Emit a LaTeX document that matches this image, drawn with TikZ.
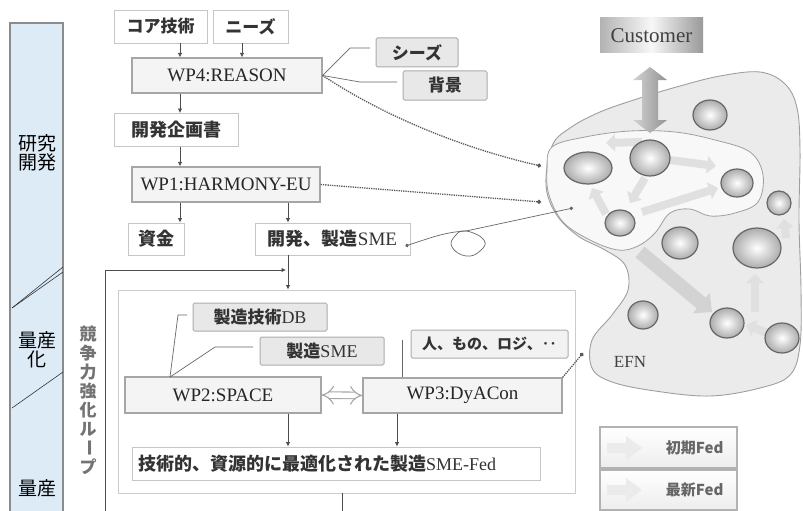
\documentclass[tikz,border=0pt]{standalone}
\usepackage{fontspec}
\setmainfont{Liberation Serif}
\newfontfamily\jp{Noto Sans CJK JP}
\usetikzlibrary{arrows.meta,shadings,calc}
\newcommand\pxs[1]{\fontsize{#1pt}{#1pt}\selectfont}
\newcommand\jpb{\jp\bfseries}
\definecolor{barfill}{HTML}{DDEBF7}
\definecolor{barline}{HTML}{8C8C8C}
\definecolor{blobfill}{HTML}{EBEBEB}
\definecolor{lobefill}{HTML}{F8F8F8}
\definecolor{flow}{HTML}{E0E0E0}
\tikzset{
  plainbox/.style={draw=gray!45, line width=0.9pt, fill=white, inner sep=0pt, text=black!80},
  wpbox/.style={draw=gray!70, line width=1.2pt, fill=gray!9, inner sep=0pt, text=black!85},
  tagbox/.style={draw=gray!65, line width=1pt, fill=gray!18, rounded corners=1.5pt, inner sep=0pt, text=black!80},
  arr/.style={draw=black!70, line width=0.8pt, -{Latex[length=4.5pt,width=4.5pt]}},
  link/.style={draw=black!60, line width=0.7pt},
  dots/.style={draw=black!65, line width=1.3pt, densely dotted, -{Circle[length=4pt]}},
  sphere/.style={draw=black!60, line width=1.2pt, inner color=white, outer color=gray!65},
  flowarrow/.style={draw=flow, line width=8pt, -{Triangle[length=9pt,width=17pt]}},
  legendbox/.style={draw=gray!60, line width=1.4pt, top color=white, bottom color=gray!14, inner sep=0pt, minimum width=137pt},
}
\begin{document}
\begin{tikzpicture}[x=1pt,y=-1pt]
\useasboundingbox (0,0) rectangle (803,511);

% phase bar on the left
\node[draw=barline, fill=barfill, line width=1.4pt, minimum width=53pt, minimum height=500pt, inner sep=0pt] (bar) at (36.5,273) {};
\node[font=\jp\pxs{19}, align=center, text=black] (phase1) at (37,153) {研究\\開発};
\node[font=\jp\pxs{19}, align=center, text=black] (phase2) at (37,350) {量産\\化};
\node[font=\jp\pxs{19}, text=black] (phase3) at (37,488) {量産};
\draw[black!80, line width=0.6pt] (12,308) -- (63,267);
\draw[black!80, line width=0.6pt] (12,308) -- (63,272);
\draw[black!80, line width=0.6pt] (12,408) -- (63,372);

% research and development flow
\node[plainbox, minimum width=93pt, minimum height=33pt, font=\jpb\pxs{17}] (core) at (160.5,26.5) {コア技術};
\node[plainbox, minimum width=75pt, minimum height=33pt, font=\jpb\pxs{17}] (needs) at (250.5,26.5) {ニーズ};
\node[wpbox, minimum width=190pt, minimum height=35pt, font=\pxs{19}] (wp4) at (227,75.5) {WP4:REASON};
\node[tagbox, minimum width=82pt, minimum height=29pt, font=\jpb\pxs{17}] (seeds) at (417,52.5) {シーズ};
\node[tagbox, minimum width=84pt, minimum height=29pt, font=\jpb\pxs{17}] (bgd) at (445,85.5) {背景};
\node[plainbox, minimum width=124pt, minimum height=33pt, font=\jpb\pxs{18}] (plan) at (176,130) {開発企画書};
\node[wpbox, minimum width=188pt, minimum height=35pt, font=\pxs{19}] (wp1) at (226,184.5) {WP1:HARMONY-EU};
\node[plainbox, minimum width=56pt, minimum height=32pt, font=\jpb\pxs{18}] (fund) at (156,239) {資金};
\node[plainbox, minimum width=155pt, minimum height=32pt, font=\pxs{19}] (sme) at (332.5,239) {{\jpb\pxs{18}開発、製造}SME};

\coordinate (colA) at (180,0);
\coordinate (colB) at (242,0);
\coordinate (colC) at (288,0);
\draw[arr] (core.south -| colA) -- (wp4.north -| colA);
\draw[arr] (needs.south -| colB) -- (wp4.north -| colB);
\draw[arr] (wp4.south -| colA) -- (plan.north -| colA);
\draw[arr] (plan.south -| colA) -- (wp1.north -| colA);
\draw[arr] (wp1.south -| colA) -- (fund.north -| colA);
\draw[arr] (wp1.south -| colC) -- (sme.north -| colC);

\coordinate (seedbend) at (350,48);
\coordinate (bgbend) at (360,82);
\draw[link] (wp4.east) -- (seedbend) -- ++(20,0);
\draw[link] (wp4.east) -- (bgbend) -- ++(37,0);

% competitiveness loop frame
\node[draw=gray!40, line width=0.9pt, minimum width=457pt, minimum height=203pt, inner sep=0pt] (frame) at (346.5,391.5) {};
\draw[arr] (sme.south -| colC) -- (frame.north -| colC);
\coordinate (loopbot) at (105,515);
\coordinate (loopcorner) at (105,270);
\draw[arr] (loopbot) -- (loopcorner) -- ($(loopcorner -| colC)+(-2,0)$);
\coordinate (outcol) at (342,0);
\draw[link, line width=0.8pt, black!70] (frame.south -| outcol) -- (342,515);

\foreach \c/\r [count=\i] in {競/0,争/0,力/0,強/0,化/0,ル/0,ー/-90,プ/0}
  \node[font=\jpb\pxs{17}, text=black!55, rotate=\r, inner sep=0pt] (loop\i) at (88,{334+19*(\i-1)}) {\c};

\node[tagbox, minimum width=134pt, minimum height=28pt, font=\pxs{18}] (db) at (260,317) {{\jpb\pxs{17}製造技術}DB};
\node[tagbox, minimum width=124pt, minimum height=28pt, font=\pxs{18}] (smeb) at (322,351) {{\jpb\pxs{17}製造}SME};
\node[tagbox, fill=gray!10, minimum width=157pt, minimum height=28pt, font=\jpb\pxs{15}] (people) at (489.5,344) {人、もの、ロジ、‥};
\node[wpbox, minimum width=196pt, minimum height=36pt, font=\pxs{19}] (wp2) at (223,395) {WP2:SPACE};
\node[wpbox, minimum width=199pt, minimum height=35pt, font=\pxs{19}] (wp3) at (462.5,395.5) {WP3:DyACon};
\node[plainbox, minimum width=408pt, minimum height=33pt, font=\pxs{18}, text width=396pt, align=left] (result) at (336,463.5) {{\jpb\pxs{18}技術的、資源的に最適化された製造}SME-Fed};

\coordinate (wp2top) at (170,377);
\draw[link] (wp2top) -- (178,315) -- (187,315);
\draw[link] (wp2top) -- (215,347) -- (253,347);
\draw[link] (wp3.north -| 402,0) -- (402,340);
\draw[gray!70, line width=1.1pt, double=white, double distance=5.5pt, {Implies}-{Implies}] (wp2.east) -- (wp3.west);
\coordinate (colD) at (397,0);
\draw[arr] (wp2.south -| colC) -- (result.north -| colC);
\draw[arr] (wp3.south -| colD) -- (result.north -| colD);

% enterprise federation network
\draw[gray!75, line width=0.9pt, fill=blobfill] plot[smooth cycle, tension=0.6] coordinates {
  (552,146) (570,128) (600,112) (640,98) (680,86) (720,76) (760,72) (785,84) (797,108)
  (800,150) (799,220) (801,290) (800,345) (790,375) (760,388) (710,396) (655,391)
  (612,382) (592,368) (592,340) (612,315) (628,290) (625,265) (605,250) (578,236)
  (556,214) (546,185)};
\draw[gray!75, line width=0.8pt, fill=lobefill] plot[smooth cycle, tension=0.6] coordinates {
  (552,147) (585,137) (630,131) (675,132) (715,140) (750,152) (763,175) (758,202)
  (735,213) (710,216) (690,209) (670,213) (655,233) (638,246) (618,250) (590,240)
  (563,222) (549,195) (547,170)};

\draw[flowarrow] (642,142) -- (606,143);
\draw[flowarrow] (670,160) -- (716,166);
\draw[flowarrow] (645,178) -- (630,203);
\draw[flowarrow] (606,214) -- (592,188);
\draw[flowarrow] (642,212) -- (718,188);
\draw[flowarrow, draw=flow!85!black!40!flow, line width=14pt, -{Triangle[length=14pt,width=26pt]}] (640,252) -- (712,312);
\draw[flowarrow] (755,312) -- (755,274);
\draw[flowarrow] (786,238) -- (784,219);
\draw[flowarrow] (770,334) -- (746,325);

\foreach \cx/\cy/\rx/\ry in {710/115/17/15, 588/168/24/16, 650/158/20/18, 737/183/16/14,
  620/223/15/13, 680/243/18/16, 757/248/24/20, 779/203/12/12, 643/315/15/14,
  727/323/17/15, 782/338/17/15}
  \draw[sphere] (\cx,\cy) ellipse [x radius=\rx, y radius=\ry];

\node[font=\pxs{17}, text=black!75] (efn) at (630,362) {EFN};

% customer and its exchange arrow
\node[draw=none, left color=gray!60, right color=gray!80, middle color=gray!6, minimum width=103pt, minimum height=35pt, inner sep=0pt, font=\pxs{21}, text=black!75] (customer) at (651.5,35.5) {Customer};
\shade[left color=gray!35, right color=gray!85] (650,67) -- (667,80) -- (658,80) -- (658,120) -- (667,120) -- (650,133) -- (633,120) -- (642,120) -- (642,80) -- (633,80) -- cycle;

% links into the network
\coordinate (blobA) at (541,166);
\coordinate (blobB) at (541,202);
\coordinate (blobC) at (583,353);
\coordinate (blobD) at (573,208);
\draw[dots] (wp4.east) .. controls (390,120) and (470,150) .. (blobA);
\draw[dots] (wp1.east) -- (blobB);
\draw[dots] (wp3.north east) -- (blobC);
\coordinate (smeout) at ($(sme.east)+(-5,7)$);
\draw[link, {Circle[length=3.5pt]}-{Circle[length=3.5pt]}] (smeout) .. controls (430,238) and (445,232) .. (466,231) -- (blobD);
\draw[link] plot[smooth cycle, tension=0.8] coordinates {(466,231) (484,240) (480,251) (466,256) (452,247) (455,236)};

% legend
\node[legendbox, minimum height=41pt] (legA) at (668.5,447.5) {};
\node[legendbox, minimum height=40pt] (legB) at (668.5,490) {};
\fill[gray!16] (607,443) -- (626,443) -- (626,436) -- (642,448) -- (626,460) -- (626,453) -- (607,453) -- cycle;
\fill[gray!16] (607,485) -- (626,485) -- (626,478) -- (642,490) -- (626,502) -- (626,495) -- (607,495) -- cycle;
\node[font=\jpb\pxs{15}, text=black!60, anchor=east] (legAtext) at (727,448) {初期Fed};
\node[font=\jpb\pxs{15}, text=black!60, anchor=east] (legBtext) at (727,490) {最新Fed};
\end{tikzpicture}
\end{document}
